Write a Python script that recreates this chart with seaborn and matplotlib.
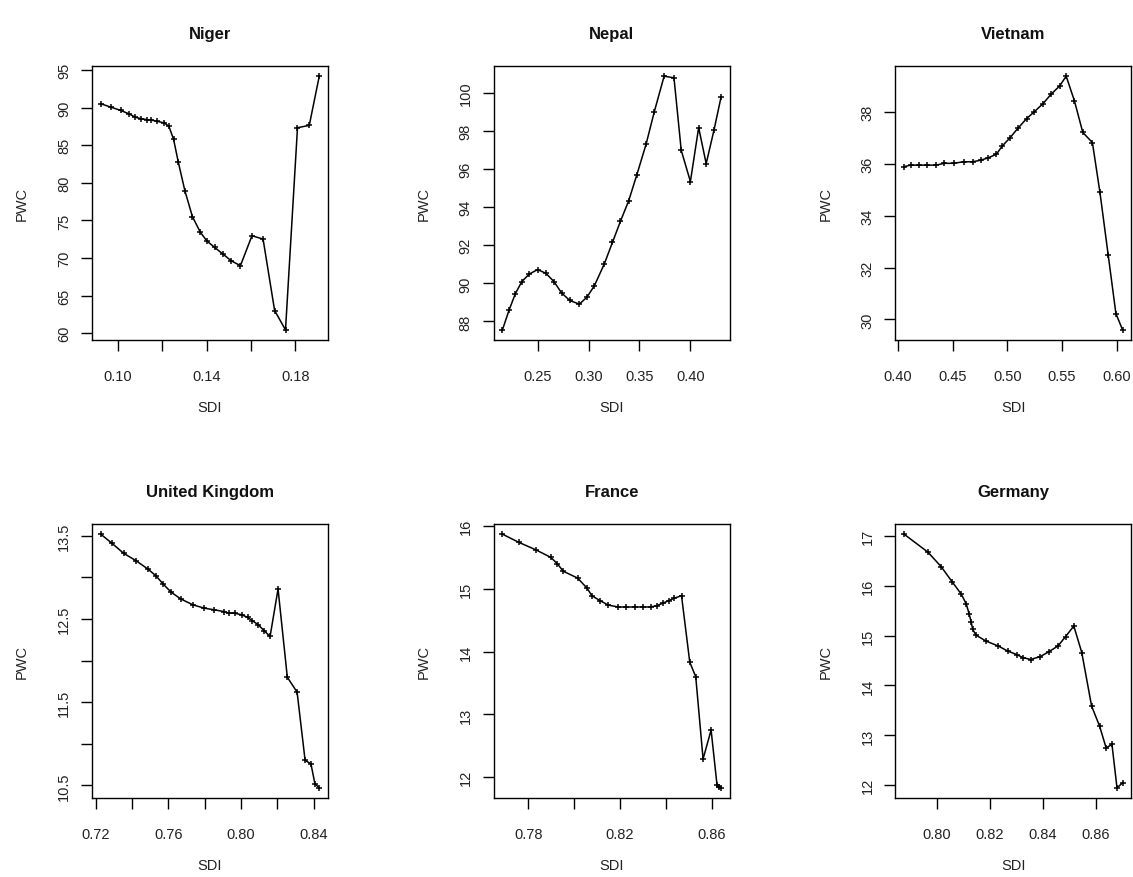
import matplotlib
matplotlib.use("Agg")
import matplotlib.pyplot as plt
import seaborn as sns
import numpy as np

sns.set_style("ticks")
plt.rcParams["font.family"] = ["Liberation Sans", "DejaVu Sans"]

# Socio-demographic index (SDI) vs. PWC, one series per country
niger_sdi = [0.0923, 0.0967, 0.1012, 0.1052, 0.1079, 0.1106, 0.1131, 0.1150, 0.1178, 0.1210,
             0.1230, 0.1251, 0.1272, 0.1302, 0.1336, 0.1372, 0.1401, 0.1436, 0.1473, 0.1510,
             0.1552, 0.1604, 0.1654, 0.1706, 0.1755, 0.1809, 0.1862, 0.1907]
niger_pwc = [90.53, 90.09, 89.65, 89.16, 88.72, 88.54, 88.41, 88.36, 88.19, 87.96,
             87.52, 85.80, 82.79, 78.94, 75.49, 73.41, 72.26, 71.41, 70.53, 69.64,
             68.98, 72.96, 72.52, 63.01, 60.44, 87.34, 87.65, 94.20]

nepal_sdi = [0.2155, 0.2219, 0.2281, 0.2345, 0.2419, 0.2500, 0.2581, 0.2661, 0.2735, 0.2816,
             0.2910, 0.2984, 0.3058, 0.3155, 0.3235, 0.3313, 0.3394, 0.3474, 0.3565, 0.3645,
             0.3742, 0.3839, 0.3910, 0.4000, 0.4081, 0.4155, 0.4232, 0.4300]
nepal_pwc = [87.56, 88.58, 89.45, 90.09, 90.49, 90.72, 90.53, 90.09, 89.50, 89.10,
             88.91, 89.27, 89.88, 91.02, 92.15, 93.25, 94.33, 95.69, 97.30, 98.99,
             100.87, 100.78, 96.98, 95.34, 98.17, 96.28, 98.05, 99.75]

vietnam_sdi = [0.4055, 0.4115, 0.4188, 0.4267, 0.4348, 0.4424, 0.4509, 0.4600, 0.4682, 0.4758,
               0.4824, 0.4900, 0.4955, 0.5024, 0.5097, 0.5176, 0.5248, 0.5327, 0.5400, 0.5479,
               0.5539, 0.5615, 0.5691, 0.5779, 0.5848, 0.5924, 0.5994, 0.6055]
vietnam_pwc = [35.89, 35.95, 35.95, 35.95, 35.95, 36.02, 36.02, 36.08, 36.08, 36.14,
               36.23, 36.37, 36.69, 37.00, 37.37, 37.74, 38.01, 38.32, 38.68, 39.00,
               39.38, 38.42, 37.21, 36.82, 34.90, 32.47, 30.23, 29.60]

uk_sdi = [0.7227, 0.7289, 0.7353, 0.7422, 0.7487, 0.7531, 0.7571, 0.7616, 0.7669, 0.7735,
          0.7798, 0.7853, 0.7904, 0.7931, 0.7964, 0.8004, 0.8036, 0.8062, 0.8095, 0.8127,
          0.8160, 0.8204, 0.8255, 0.8309, 0.8353, 0.8385, 0.8407, 0.8431]
uk_pwc = [13.52, 13.41, 13.29, 13.20, 13.10, 13.02, 12.92, 12.82, 12.74, 12.67,
          12.63, 12.61, 12.59, 12.57, 12.57, 12.55, 12.52, 12.48, 12.43, 12.36,
          12.29, 12.86, 11.80, 11.62, 10.80, 10.76, 10.52, 10.47]

france_sdi = [0.7687, 0.7758, 0.7833, 0.7898, 0.7926, 0.7952, 0.8015, 0.8056, 0.8077, 0.8113,
              0.8149, 0.8192, 0.8225, 0.8264, 0.8300, 0.8333, 0.8360, 0.8386, 0.8412, 0.8436,
              0.8468, 0.8504, 0.8530, 0.8562, 0.8597, 0.8623, 0.8632, 0.8640]
france_pwc = [15.87, 15.74, 15.62, 15.50, 15.40, 15.28, 15.17, 15.01, 14.89, 14.81,
              14.74, 14.71, 14.71, 14.71, 14.71, 14.71, 14.73, 14.77, 14.81, 14.85,
              14.89, 13.83, 13.60, 12.29, 12.75, 11.87, 11.85, 11.83]

germany_sdi = [0.7875, 0.7965, 0.8015, 0.8056, 0.8091, 0.8110, 0.8121, 0.8128, 0.8134, 0.8146,
               0.8184, 0.8231, 0.8266, 0.8300, 0.8323, 0.8353, 0.8390, 0.8423, 0.8456, 0.8485,
               0.8516, 0.8546, 0.8583, 0.8613, 0.8638, 0.8660, 0.8679, 0.8700]
germany_pwc = [17.03, 16.67, 16.38, 16.08, 15.83, 15.63, 15.43, 15.28, 15.13, 15.01,
               14.89, 14.79, 14.69, 14.62, 14.56, 14.52, 14.58, 14.68, 14.79, 14.98,
               15.19, 14.66, 13.59, 13.19, 12.75, 12.82, 11.95, 12.05]

countries = ["Niger", "Nepal", "Vietnam", "United Kingdom", "France", "Germany"]
sdi_series = [niger_sdi, nepal_sdi, vietnam_sdi, uk_sdi, france_sdi, germany_sdi]
pwc_series = [niger_pwc, nepal_pwc, vietnam_pwc, uk_pwc, france_pwc, germany_pwc]

# axis ticks: (all tick positions, labelled subset)
x_ticks = [
    ([0.10, 0.12, 0.14, 0.16, 0.18], [0.10, 0.14, 0.18]),
    ([0.25, 0.30, 0.35, 0.40], [0.25, 0.30, 0.35, 0.40]),
    ([0.40, 0.45, 0.50, 0.55, 0.60], [0.40, 0.45, 0.50, 0.55, 0.60]),
    ([0.72, 0.74, 0.76, 0.78, 0.80, 0.82, 0.84], [0.72, 0.76, 0.80, 0.84]),
    ([0.78, 0.80, 0.82, 0.84, 0.86], [0.78, 0.82, 0.86]),
    ([0.80, 0.82, 0.84, 0.86], [0.80, 0.82, 0.84, 0.86]),
]
y_ticks = [
    ([60, 65, 70, 75, 80, 85, 90, 95], [60, 65, 70, 75, 80, 85, 90, 95], "{:.0f}"),
    ([88, 90, 92, 94, 96, 98, 100], [88, 90, 92, 94, 96, 98, 100], "{:.0f}"),
    ([30, 32, 34, 36, 38], [30, 32, 34, 36, 38], "{:.0f}"),
    ([10.5, 11.0, 11.5, 12.0, 12.5, 13.0, 13.5], [10.5, 11.5, 12.5, 13.5], "{:.1f}"),
    ([12, 13, 14, 15, 16], [12, 13, 14, 15, 16], "{:.0f}"),
    ([12, 13, 14, 15, 16, 17], [12, 13, 14, 15, 16, 17], "{:.0f}"),
]

W, H = 1133, 878
fig = plt.figure(figsize=(W / 100, H / 100), dpi=100)
fig.patch.set_facecolor("white")

col_left = [92, 493.7, 895.3]
row_top = [67, 525]
box_w, box_h = 236, 274

for i, name in enumerate(countries):
    r, c = divmod(i, 3)
    left = col_left[c] / W
    bottom = 1 - (row_top[r] + box_h) / H
    ax = fig.add_axes([left, bottom, box_w / W, box_h / H])
    ax.set_facecolor("white")

    sns.lineplot(x=sdi_series[i], y=pwc_series[i], ax=ax, sort=False,
                 color="black", linewidth=1.1, marker="+", markersize=4.5,
                 markeredgewidth=1.1, markeredgecolor="black", estimator=None)
    ax.margins(x=0.04, y=0.04)

    xt, xl = x_ticks[i]
    ax.set_xticks(xt)
    ax.set_xticklabels(["{:.2f}".format(v) if any(abs(v - u) < 1e-9 for u in xl) else ""
                        for v in xt])
    yt, yl, fmt = y_ticks[i]
    ax.set_yticks(yt)
    ax.set_yticklabels([fmt.format(v) if any(abs(v - u) < 1e-9 for u in yl) else ""
                        for v in yt], rotation=90, va="center")

    for sp in ax.spines.values():
        sp.set_visible(True)
        sp.set_color("black")
        sp.set_linewidth(1.0)
    ax.tick_params(axis="both", direction="out", length=8, width=1.0,
                   color="black", labelsize=10.5, labelcolor="#222222")
    ax.tick_params(axis="x", pad=13)
    ax.tick_params(axis="y", pad=7)

    ax.set_title(name, fontsize=12, fontweight="bold", pad=20, color="#111111")
    ax.set_xlabel("SDI", fontsize=10.5, color="#222222", va="center")
    ax.set_ylabel("PWC", fontsize=10.5, color="#222222", va="center")
    ax.xaxis.set_label_coords(0.5, -(408 - 341) / box_h)
    ax.yaxis.set_label_coords(-(92 - 22) / box_w, 0.5)
    ax.grid(False)

fig.savefig("out.png", dpi=100, facecolor="white")
